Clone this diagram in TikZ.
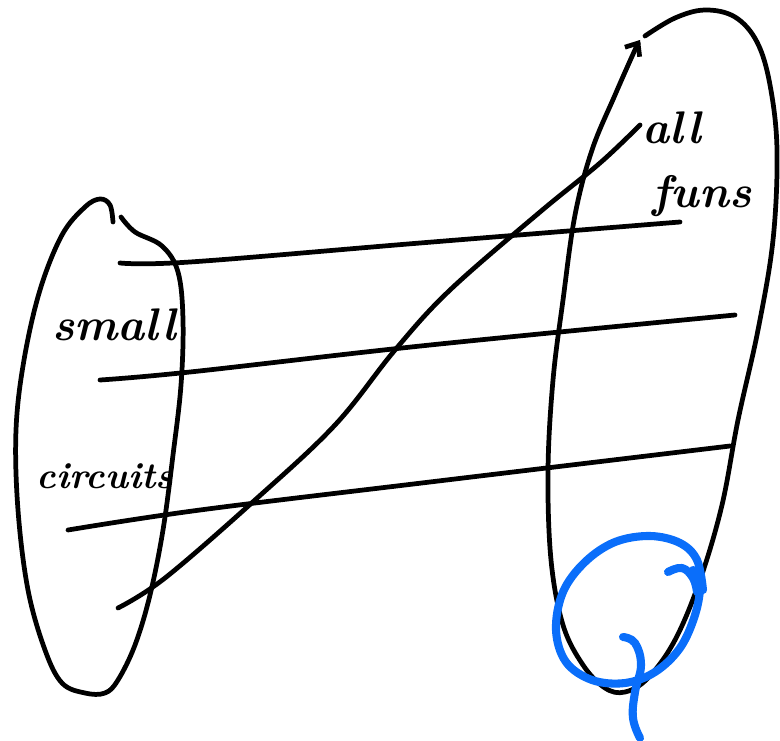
\documentclass[tikz,border=0pt]{standalone}
\usetikzlibrary{arrows.meta}
\definecolor{penblue}{RGB}{10,110,250}
\begin{document}
\begin{tikzpicture}[
    x=0.02cm, y=-0.02cm,
    ink/.style={line width=2.7pt, line cap=round, line join=round, black},
    bluepen/.style={line width=4.6pt, line cap=round, line join=round, penblue},
    hand/.style={font=\fontsize{26}{28}\selectfont\bfseries\itshape, inner sep=0pt},
    map/.style={ink, smooth, tension=0.6}
]
\useasboundingbox (0,0) rectangle (780,740);

% Left set (small circuits)
\draw[ink] plot[smooth, tension=0.6] coordinates {(113,222) (110,205) (100,199) (85,207) (62,235) (40,290) (24,360) (16,430) (18,510) (28,590) (45,650) (62,683) (85,693) (105,693) (118,680) (135,645) (150,595) (163,530) (173,455) (181,385) (183,320) (178,272) (162,246) (135,232) (121,217)};

% Right set (all funs)
\draw[ink, -{Straight Barb[length=6pt, width=10pt]}] plot[smooth, tension=0.6] coordinates {(645,36) (675,18) (705,10) (735,17) (757,42) (770,85) (777,150) (773,240) (758,330) (738,420) (722,505) (700,580) (675,640) (648,678) (625,692) (605,688) (583,665) (563,625) (551,560) (548,470) (553,380) (563,300) (575,215) (592,150) (615,95) (634,52) (640,40)};

% Labels
\node[hand] (small) at (114,325) {small};
\node[hand, font=\fontsize{21}{24}\selectfont\bfseries\itshape] (circ) at (105,476) {circuits};
\node[hand] (all) at (672,128) {all};
\node[hand] (funs) at (702,196) {funs};

% End points of the maps
\coordinate (a1) at (120,263);
\coordinate (b1) at (680,222);
\coordinate (a2) at (100,380);
\coordinate (b2) at (735,315);
\coordinate (a3) at (68,530);
\coordinate (b3) at (730,446);
\coordinate (a4) at (118,608);
\coordinate (b4) at (640,125);

% Maps from left to right
\draw[map] plot coordinates {(a1) (190,262) (420,243) (b1)};
\draw[map] plot coordinates {(a2) (190,372) (430,345) (b2)};
\draw[map] plot coordinates {(a3) (200,510) (430,482) (b3)};
\draw[map] plot coordinates {(a4) (165,578) (255,500) (335,425) (395,350) (450,290) (540,212) (600,163) (b4)};

% Blue circle near the bottom
\draw[bluepen] plot[smooth, tension=0.6] coordinates {(703,590) (697,560) (680,543) (650,536) (615,542) (585,562) (563,592) (556,630) (566,662) (592,680) (625,683) (655,672) (680,648) (695,615) (700,585) (693,570)};
\draw[bluepen] plot[smooth, tension=0.7] coordinates {(668,572) (682,568) (693,578) (697,592)};
\draw[bluepen] plot[smooth, tension=0.7] coordinates {(623,637) (635,643) (641,665) (635,692) (633,718) (640,738)};

\end{tikzpicture}
\end{document}
